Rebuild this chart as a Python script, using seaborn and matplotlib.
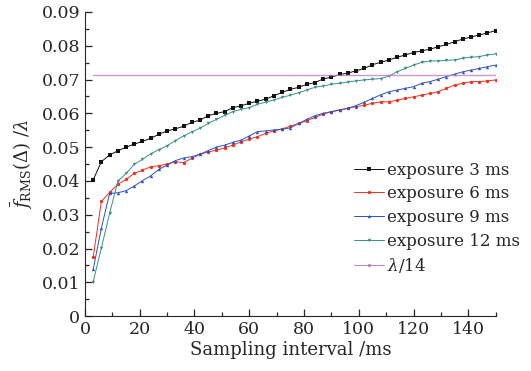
import numpy as np
import pandas as pd
import seaborn as sns
import matplotlib
matplotlib.use("Agg")
import matplotlib.pyplot as plt
from matplotlib.lines import Line2D
from matplotlib.ticker import MultipleLocator, FuncFormatter

# sampling interval (ms)
interval = [3, 6, 9, 12, 15, 18, 21, 24, 27, 30, 33, 36, 39, 42, 45, 48, 51, 54, 57, 60,
            63, 66, 69, 72, 75, 78, 81, 84, 87, 90, 93, 96, 99, 102, 105, 108, 111, 114, 117, 120,
            123, 126, 129, 132, 135, 138, 141, 144, 147, 150]

exp_3ms = [0.0403, 0.0457, 0.0477, 0.0489, 0.0500, 0.0509, 0.0517, 0.0526, 0.0538, 0.0548,
           0.0554, 0.0562, 0.0573, 0.0580, 0.0593, 0.0600, 0.0605, 0.0617, 0.0622, 0.0630,
           0.0636, 0.0642, 0.0652, 0.0662, 0.0671, 0.0677, 0.0686, 0.0691, 0.0702, 0.0707,
           0.0715, 0.0719, 0.0726, 0.0733, 0.0744, 0.0751, 0.0758, 0.0766, 0.0773, 0.0780,
           0.0785, 0.0790, 0.0797, 0.0804, 0.0812, 0.0820, 0.0826, 0.0832, 0.0838, 0.0845]

exp_6ms = [0.0174, 0.0340, 0.0366, 0.0390, 0.0405, 0.0422, 0.0432, 0.0442, 0.0445, 0.0450,
           0.0457, 0.0454, 0.0467, 0.0479, 0.0486, 0.0491, 0.0498, 0.0506, 0.0516, 0.0524,
           0.0531, 0.0541, 0.0548, 0.0554, 0.0562, 0.0570, 0.0578, 0.0588, 0.0598, 0.0605,
           0.0610, 0.0615, 0.0620, 0.0624, 0.0630, 0.0634, 0.0634, 0.0639, 0.0644, 0.0649,
           0.0654, 0.0659, 0.0664, 0.0674, 0.0684, 0.0689, 0.0694, 0.0694, 0.0696, 0.0699]

exp_9ms = [0.0138, 0.0261, 0.0363, 0.0365, 0.0371, 0.0385, 0.0401, 0.0415, 0.0434, 0.0447,
           0.0460, 0.0468, 0.0472, 0.0479, 0.0490, 0.0500, 0.0506, 0.0514, 0.0521, 0.0533,
           0.0546, 0.0548, 0.0551, 0.0553, 0.0557, 0.0570, 0.0582, 0.0593, 0.0600, 0.0605,
           0.0610, 0.0615, 0.0623, 0.0633, 0.0644, 0.0655, 0.0664, 0.0669, 0.0674, 0.0679,
           0.0689, 0.0694, 0.0701, 0.0709, 0.0716, 0.0723, 0.0728, 0.0733, 0.0738, 0.0743]

exp_12ms = [0.0102, 0.0202, 0.0304, 0.0399, 0.0422, 0.0449, 0.0464, 0.0480, 0.0493, 0.0504,
            0.0519, 0.0533, 0.0545, 0.0556, 0.0570, 0.0582, 0.0594, 0.0605, 0.0612, 0.0617,
            0.0627, 0.0633, 0.0640, 0.0647, 0.0654, 0.0661, 0.0669, 0.0677, 0.0681, 0.0686,
            0.0689, 0.0693, 0.0696, 0.0699, 0.0701, 0.0703, 0.0710, 0.0723, 0.0733, 0.0743,
            0.0751, 0.0755, 0.0755, 0.0757, 0.0758, 0.0763, 0.0766, 0.0768, 0.0773, 0.0776]

limit_x = [3, 150]
limit_y = [1 / 14, 1 / 14]

labels = ["exposure 3 ms", "exposure 6 ms", "exposure 9 ms", "exposure 12 ms", r"$\lambda$/14"]
colors = ["#111111", "#f03020", "#3050c0", "#3a9088", "#c47cc8"]
markers = ["s", "o", "^", "v", "o"]

sns.set_style("ticks")
plt.rcParams["font.family"] = ["DejaVu Serif"]
plt.rcParams["mathtext.fontset"] = "dejavuserif"

fig = plt.figure(figsize=(5.31, 3.71), dpi=100)
ax = fig.add_axes([0.160, 0.148, 0.7735, 0.8197])

series = [(interval, exp_3ms), (interval, exp_6ms), (interval, exp_9ms),
          (interval, exp_12ms), (limit_x, limit_y)]
for (xs, ys), lab, col, mk in zip(series, labels, colors, markers):
    if lab == labels[-1]:
        sns.lineplot(x=xs, y=ys, ax=ax, color=col, linewidth=1.0, alpha=0.8, legend=False)
    else:
        sns.lineplot(x=xs, y=ys, ax=ax, color=col, marker=mk, markersize=2.4,
                     markeredgewidth=0, linewidth=0.7, legend=False)

ax.set_xlim(0, 150)
ax.set_ylim(0, 0.09)
ax.xaxis.set_major_locator(MultipleLocator(20))
ax.xaxis.set_minor_locator(MultipleLocator(10))
ax.yaxis.set_major_locator(MultipleLocator(0.01))
ax.yaxis.set_minor_locator(MultipleLocator(0.005))
ax.yaxis.set_major_formatter(FuncFormatter(lambda v, p: "0" if abs(v) < 1e-9 else f"{v:.2f}"))
ax.tick_params(which="both", direction="in", labelsize=12.5, width=0.9)
ax.tick_params(which="major", length=5)
ax.tick_params(which="minor", length=3)
sns.despine(ax=ax)

ax.set_xlabel("Sampling interval /ms", fontsize=13, labelpad=2)
ax.set_ylabel(r"$\bar{f}_{\rm RMS}(\mathit{\Delta})\ /\lambda$", fontsize=13, labelpad=5)

handles = [Line2D([], [], color=c, marker=m, markersize=2.4, markeredgewidth=0, linewidth=0.7)
           for c, m in zip(colors, markers)]
ax.legend(handles, labels, loc="upper left", bbox_to_anchor=(0.64, 0.53),
          frameon=False, fontsize=12, handlelength=1.8, handletextpad=0.15,
          labelspacing=0.4, borderaxespad=0)

fig.savefig("out.png", dpi=100)
